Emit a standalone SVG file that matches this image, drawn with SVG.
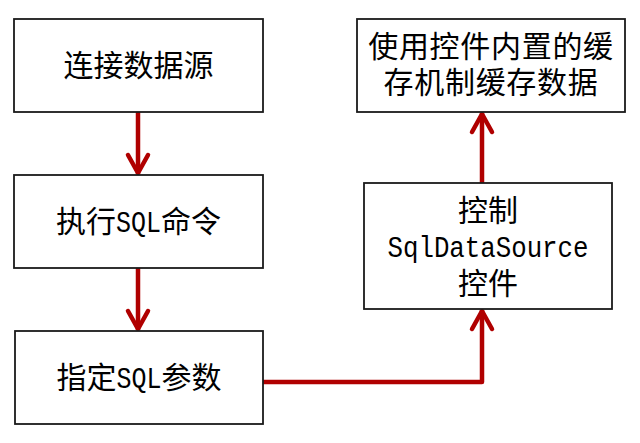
<svg xmlns="http://www.w3.org/2000/svg" width="640" height="443" viewBox="0 0 640 443">
  <style>
    .box { fill: #ffffff; stroke: #1a1a1a; stroke-width: 1.8; }
    .t { font-family: "Noto Sans CJK SC", "Noto Sans", sans-serif; font-size: 30px; fill: #000; text-anchor: middle; }
    .lat { font-family: "Liberation Mono", "Noto Sans CJK SC", monospace; font-size: 29px; }
    .conn { fill: none; stroke: #b00000; stroke-width: 4.5; stroke-linejoin: round; }
  </style>
  <defs>
    <marker id="arrow" markerUnits="userSpaceOnUse" viewBox="-25 -15 30 30" markerWidth="30" markerHeight="30" refX="0" refY="0" orient="auto" overflow="visible">
      <path d="M -19 -10 L -1 0 L -19 10" fill="none" stroke="#b00000" stroke-width="4.5" stroke-linecap="round" stroke-linejoin="round"/>
    </marker>
  </defs>
  <rect width="640" height="443" fill="#ffffff"/>

  <g id="connectors">
    <path class="conn" d="M 138 112 V 174" marker-end="url(#arrow)"/>
    <path class="conn" d="M 138 268 V 330" marker-end="url(#arrow)"/>
    <path class="conn" d="M 263 382 H 482 V 310" marker-end="url(#arrow)"/>
    <path class="conn" d="M 482 183 V 113" marker-end="url(#arrow)"/>
  </g>

  <g id="node-connect">
    <rect class="box" x="14" y="19" width="249" height="93"/>
    <text class="t" x="138.5" y="76">连接数据源</text>
  </g>

  <g id="node-execute">
    <rect class="box" x="14" y="175" width="249" height="93"/>
    <text class="t" x="138.5" y="232">执行<tspan class="lat" textLength="45" lengthAdjust="spacingAndGlyphs">SQL</tspan>命令</text>
  </g>

  <g id="node-params">
    <rect class="box" x="15" y="331" width="248" height="93"/>
    <text class="t" x="139" y="388">指定<tspan class="lat" textLength="45" lengthAdjust="spacingAndGlyphs">SQL</tspan>参数</text>
  </g>

  <g id="node-control">
    <rect class="box" x="364" y="183" width="248" height="126"/>
    <text class="t" x="488" y="221">控制</text>
    <text class="t" x="488" y="257"><tspan class="lat" textLength="201" lengthAdjust="spacingAndGlyphs">SqlDataSource</tspan></text>
    <text class="t" x="488" y="294">控件</text>
  </g>

  <g id="node-cache">
    <rect class="box" x="357" y="19" width="268" height="93"/>
    <text class="t" x="491" y="57" letter-spacing="0.7">使用控件内置的缓</text>
    <text class="t" x="491" y="93" letter-spacing="0.7">存机制缓存数据</text>
  </g>
</svg>
